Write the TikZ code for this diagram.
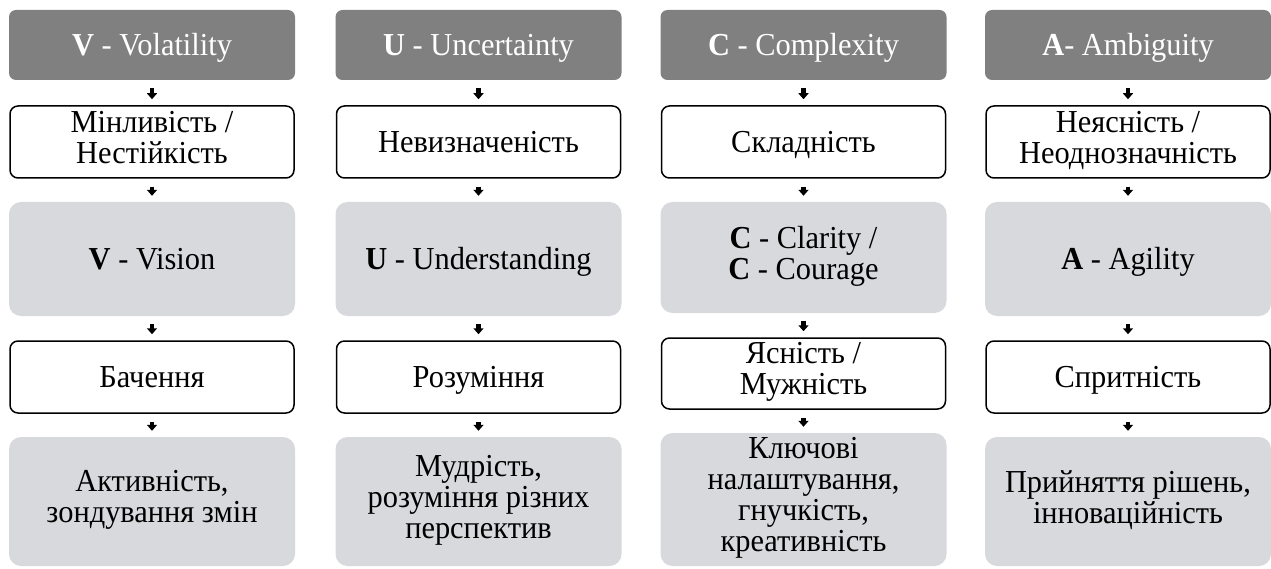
\documentclass[tikz,border=0pt]{standalone}
\usepackage{fontspec}
\setmainfont{Liberation Serif}[FakeStretch=0.95]
\usetikzlibrary{arrows.meta}
\definecolor{headgray}{RGB}{128,128,128}
\definecolor{boxgray}{RGB}{216,217,220}
\newcommand\vstrut{\rule[-0.3em]{0pt}{1.26em}}
\tikzset{
  box/.style={inner sep=0pt, align=center, font=\fontsize{32}{31}\selectfont,
    execute at begin node=\vstrut, execute at end node=\vstrut},
  head/.style={box, fill=headgray, text=white, rounded corners=7pt, minimum width=286pt,
    minimum height=70pt},
  term/.style={box, draw, line width=1.5pt, fill=white, rounded corners=8pt, minimum width=284pt},
  key/.style={box, fill=boxgray, rounded corners=12pt, minimum width=286pt},
  down/.style={line width=4.5pt, -{Triangle[width=10pt,length=6pt]}, shorten <=8pt, shorten >=6pt}
}
\begin{document}
\begin{tikzpicture}[x=1pt,y=-1pt]
\useasboundingbox (0,0) rectangle (1271,569);
% V
\node[head] (v1) at (152,45) {\textbf{V} - Volatility};
\node[term, minimum height=72pt] (v2) at (152,142) {Мінливість /\\Нестійкість};
\node[key, minimum height=114pt] (v3) at (152,259) {\textbf{V} - Vision};
\node[term, minimum height=72pt] (v4) at (152,377) {Бачення};
\node[key, minimum height=129pt] (v5) at (152,501.5) {Активність,\\зондування змін};
% U
\node[head] (u1) at (478.5,45) {\textbf{U} - Uncertainty};
\node[term, minimum height=72pt] (u2) at (478.5,142) {Невизначеність};
\node[key, minimum height=114pt] (u3) at (478.5,259) {\textbf{U} - Understanding};
\node[term, minimum height=72pt] (u4) at (478.5,377) {Розуміння};
\node[key, minimum height=129pt] (u5) at (478.5,501.5) {Мудрість,\\розуміння різних\\перспектив};
% C
\node[head] (c1) at (803.5,45) {\textbf{C} - Complexity};
\node[term, minimum height=72pt] (c2) at (803.5,142) {Складність};
\node[key, minimum height=111pt] (c3) at (803.5,257.5) {\textbf{C} - Clarity /\\\textbf{C} - Courage};
\node[term, minimum height=71pt] (c4) at (803.5,373.5) {Ясність /\\Мужність};
\node[key, minimum height=133pt] (c5) at (803.5,499.5) {Ключові\\налаштування,\\гнучкість,\\креативність};
% A
\node[head] (a1) at (1128,45) {\textbf{A}- Ambiguity};
\node[term, minimum height=72pt] (a2) at (1128,142) {Неясність /\\Неоднозначність};
\node[key, minimum height=114pt] (a3) at (1128,259) {\textbf{A} - Agility};
\node[term, minimum height=72pt] (a4) at (1128,377) {Спритність};
\node[key, minimum height=129pt] (a5) at (1128,501.5) {Прийняття рішень,\\інноваційність};
\foreach \col in {v,u,c,a}
  \foreach \i/\j in {1/2,2/3,3/4,4/5}
    \draw[down] (\col\i) -- (\col\j);
\end{tikzpicture}
\end{document}
